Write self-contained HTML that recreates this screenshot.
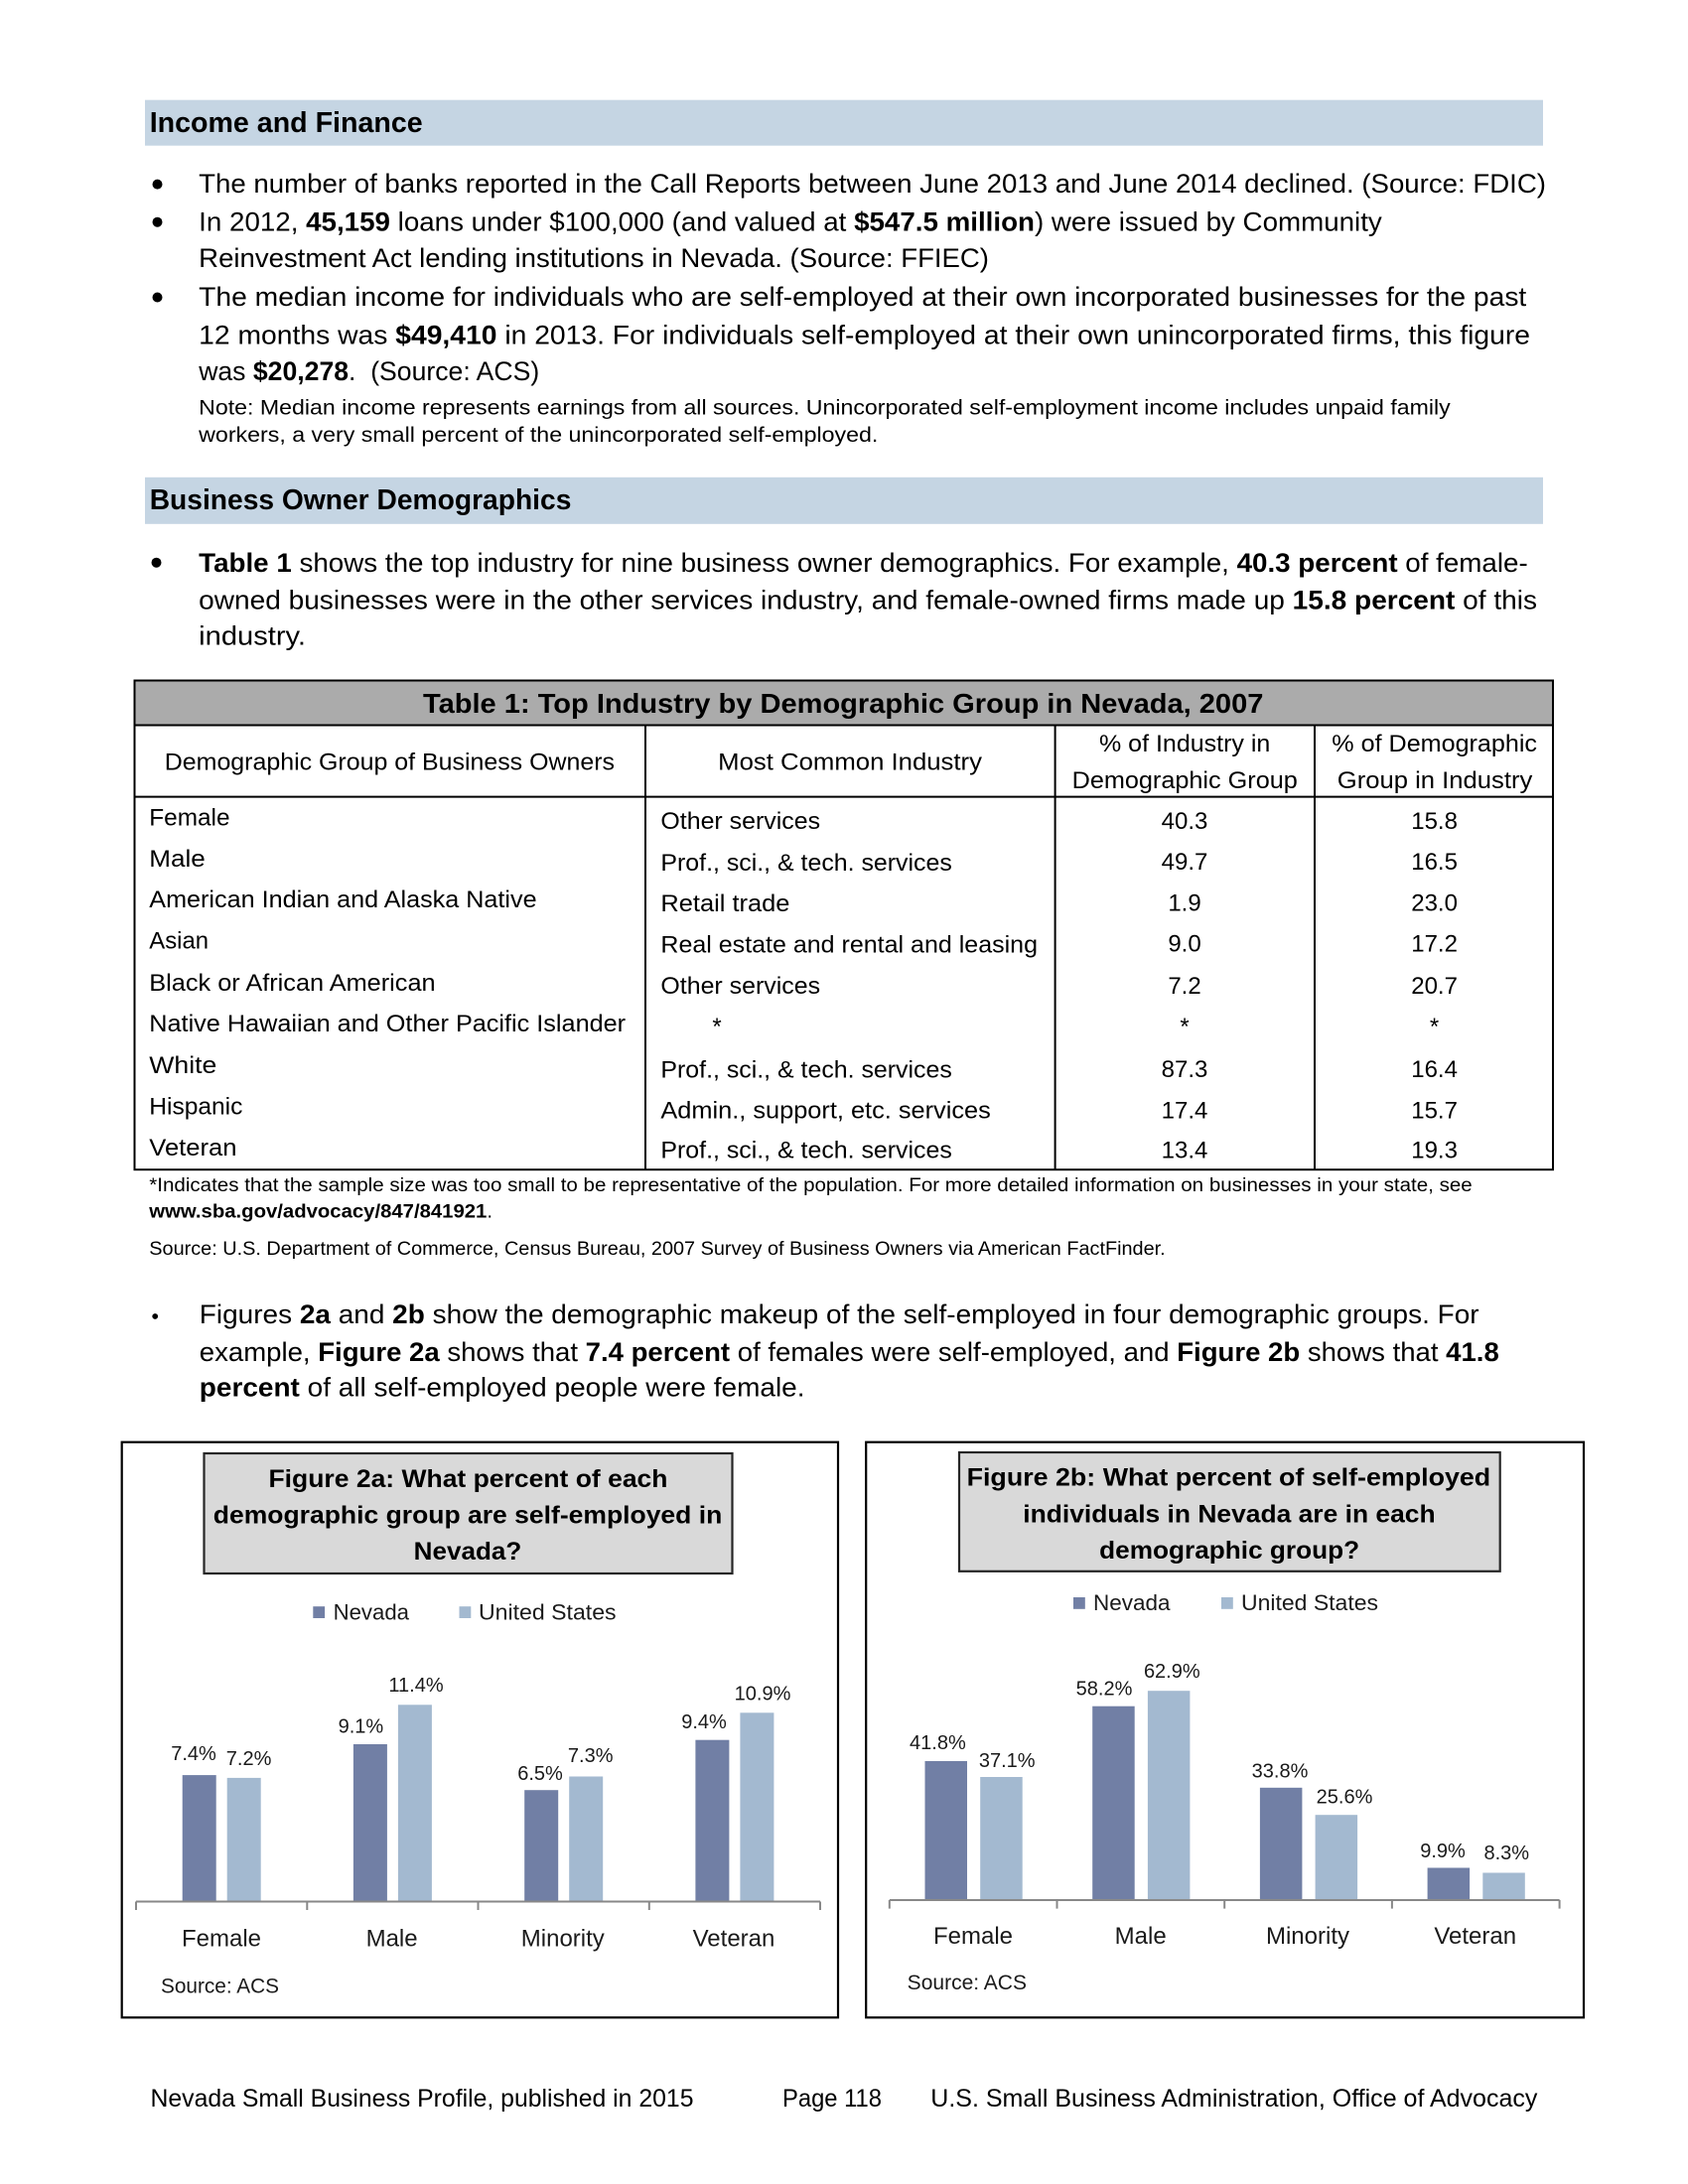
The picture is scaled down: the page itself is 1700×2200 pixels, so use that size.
<!DOCTYPE html>
<html>
<head>
<meta charset="utf-8">
<style>
html,body{margin:0;padding:0;background:#fff;}
svg{display:block;}
text{font-family:"Liberation Sans",Arial,sans-serif;fill:#000;}
.b{font-weight:bold;}
.body{font-size:27px;}
.note{font-size:21px;}
.tb{font-size:24px;}
.fn{font-size:19px;}
.ct{font-size:25px;font-weight:bold;}
.lg{font-size:22px;fill:#1a1a1a;}
.dl{font-size:20px;fill:#1a1a1a;}
.cat{font-size:24px;fill:#1a1a1a;}
.src{font-size:21px;fill:#1a1a1a;}
.ft{font-size:25px;}
</style>
</head>
<body>
<svg width="1700" height="2200" viewBox="0 0 1700 2200" xmlns="http://www.w3.org/2000/svg">
<rect x="0" y="0" width="1700" height="2200" fill="#fff"/>

<!-- Income and Finance header -->
<rect x="146" y="100.7" width="1408" height="46" fill="#c5d5e3"/>
<text x="150.7" y="132.8" class="b" font-size="29" textLength="275" lengthAdjust="spacingAndGlyphs">Income and Finance</text>

<!-- bullets -->
<circle cx="158.5" cy="185.6" r="5" fill="#000"/>
<circle cx="158.5" cy="223.7" r="5" fill="#000"/>
<circle cx="158.5" cy="299.5" r="5" fill="#000"/>

<text x="200.2" y="193.9" class="body" textLength="1356.8" lengthAdjust="spacingAndGlyphs">The number of banks reported in the Call Reports between June 2013 and June 2014 declined. (Source: FDIC)</text>
<text x="200.2" y="232.4" class="body" textLength="1191.6" lengthAdjust="spacingAndGlyphs">In 2012, <tspan class="b">45,159</tspan> loans under $100,000 (and valued at <tspan class="b">$547.5 million</tspan>) were issued by Community</text>
<text x="200.2" y="269.2" class="body" textLength="795.8" lengthAdjust="spacingAndGlyphs">Reinvestment Act lending institutions in Nevada. (Source: FFIEC)</text>
<text x="200.2" y="308.2" class="body" textLength="1337.1" lengthAdjust="spacingAndGlyphs">The median income for individuals who are self-employed at their own incorporated businesses for the past</text>
<text x="200.2" y="346.3" class="body" textLength="1340.8" lengthAdjust="spacingAndGlyphs">12 months was <tspan class="b">$49,410</tspan> in 2013. For individuals self-employed at their own unincorporated firms, this figure</text>
<text x="200.2" y="383" class="body" textLength="343" lengthAdjust="spacingAndGlyphs">was <tspan class="b">$20,278</tspan>.&#160; (Source: ACS)</text>
<text x="200.2" y="417.5" class="note" textLength="1260.5" lengthAdjust="spacingAndGlyphs">Note: Median income represents earnings from all sources. Unincorporated self-employment income includes unpaid family</text>
<text x="200.2" y="445" class="note" textLength="684.2" lengthAdjust="spacingAndGlyphs">workers, a very small percent of the unincorporated self-employed.</text>

<!-- Business Owner Demographics header -->
<rect x="146" y="480.8" width="1408" height="47" fill="#c5d5e3"/>
<text x="150.7" y="513" class="b" font-size="29" textLength="424.7" lengthAdjust="spacingAndGlyphs">Business Owner Demographics</text>

<circle cx="157.5" cy="566.7" r="5" fill="#000"/>
<text x="200.2" y="575.9" class="body" textLength="1338.5" lengthAdjust="spacingAndGlyphs"><tspan class="b">Table 1</tspan> shows the top industry for nine business owner demographics. For example, <tspan class="b">40.3 percent</tspan> of female-</text>
<text x="200.2" y="613.5" class="body" textLength="1347.8" lengthAdjust="spacingAndGlyphs">owned businesses were in the other services industry, and female-owned firms made up <tspan class="b">15.8 percent</tspan> of this</text>
<text x="200.2" y="649.3" class="body" textLength="107.8" lengthAdjust="spacingAndGlyphs">industry.</text>

<!-- Table -->
<rect x="135.5" y="685.5" width="1428.5" height="45" fill="#ababab"/>
<rect x="135.5" y="685.5" width="1428.5" height="492.7" fill="none" stroke="#000" stroke-width="2"/>
<line x1="135.5" y1="730.5" x2="1564" y2="730.5" stroke="#000" stroke-width="2"/>
<line x1="135.5" y1="802.6" x2="1564" y2="802.6" stroke="#000" stroke-width="2"/>
<line x1="650" y1="730.5" x2="650" y2="1178.2" stroke="#000" stroke-width="2"/>
<line x1="1062.6" y1="730.5" x2="1062.6" y2="1178.2" stroke="#000" stroke-width="2"/>
<line x1="1324" y1="730.5" x2="1324" y2="1178.2" stroke="#000" stroke-width="2"/>

<text x="426" y="718" class="b" font-size="28" textLength="846.4" lengthAdjust="spacingAndGlyphs">Table 1: Top Industry by Demographic Group in Nevada, 2007</text>

<text x="165.8" y="775.6" class="tb" textLength="453.2" lengthAdjust="spacingAndGlyphs">Demographic Group of Business Owners</text>
<text x="723.2" y="775.6" class="tb" textLength="265.8" lengthAdjust="spacingAndGlyphs">Most Common Industry</text>
<text x="1107" y="757" class="tb" textLength="172.3" lengthAdjust="spacingAndGlyphs">% of Industry in</text>
<text x="1079.6" y="794" class="tb" textLength="227.2" lengthAdjust="spacingAndGlyphs">Demographic Group</text>
<text x="1341.3" y="757" class="tb" textLength="206.7" lengthAdjust="spacingAndGlyphs">% of Demographic</text>
<text x="1346.8" y="794" class="tb" textLength="196.5" lengthAdjust="spacingAndGlyphs">Group in Industry</text>

<!-- column 1 -->
<text x="150.3" y="831.6" class="tb" textLength="81.2" lengthAdjust="spacingAndGlyphs">Female</text>
<text x="150.3" y="872.9" class="tb" textLength="56.5" lengthAdjust="spacingAndGlyphs">Male</text>
<text x="150.3" y="913.8" class="tb" textLength="390.3" lengthAdjust="spacingAndGlyphs">American Indian and Alaska Native</text>
<text x="150.3" y="955.5" class="tb" textLength="59.7" lengthAdjust="spacingAndGlyphs">Asian</text>
<text x="150.3" y="997.8" class="tb" textLength="288.3" lengthAdjust="spacingAndGlyphs">Black or African American</text>
<text x="150.3" y="1039" class="tb" textLength="479.8" lengthAdjust="spacingAndGlyphs">Native Hawaiian and Other Pacific Islander</text>
<text x="150.3" y="1080.9" class="tb" textLength="68" lengthAdjust="spacingAndGlyphs">White</text>
<text x="150.3" y="1122.7" class="tb" textLength="94.1" lengthAdjust="spacingAndGlyphs">Hispanic</text>
<text x="150.3" y="1164" class="tb" textLength="88.2" lengthAdjust="spacingAndGlyphs">Veteran</text>

<!-- column 2 -->
<text x="665.4" y="834.8" class="tb" textLength="160.7" lengthAdjust="spacingAndGlyphs">Other services</text>
<text x="665.4" y="877" class="tb" textLength="293.4" lengthAdjust="spacingAndGlyphs">Prof., sci., &amp; tech. services</text>
<text x="665.4" y="918" class="tb" textLength="130" lengthAdjust="spacingAndGlyphs">Retail trade</text>
<text x="665.4" y="959.5" class="tb" textLength="379.6" lengthAdjust="spacingAndGlyphs">Real estate and rental and leasing</text>
<text x="665.4" y="1001" class="tb" textLength="160.7" lengthAdjust="spacingAndGlyphs">Other services</text>
<text x="722" y="1042" class="tb" text-anchor="middle">*</text>
<text x="665.4" y="1085.5" class="tb" textLength="293.4" lengthAdjust="spacingAndGlyphs">Prof., sci., &amp; tech. services</text>
<text x="665.4" y="1126.7" class="tb" textLength="332.4" lengthAdjust="spacingAndGlyphs">Admin., support, etc. services</text>
<text x="665.4" y="1166.7" class="tb" textLength="293.4" lengthAdjust="spacingAndGlyphs">Prof., sci., &amp; tech. services</text>

<!-- column 3 -->
<g class="tb" text-anchor="middle">
<text x="1193" y="834.8" class="tb">40.3</text>
<text x="1193" y="876" class="tb">49.7</text>
<text x="1193" y="917.4" class="tb">1.9</text>
<text x="1193" y="958.7" class="tb">9.0</text>
<text x="1193" y="1001" class="tb">7.2</text>
<text x="1193" y="1042" class="tb">*</text>
<text x="1193" y="1085" class="tb">87.3</text>
<text x="1193" y="1126.3" class="tb">17.4</text>
<text x="1193" y="1166.7" class="tb">13.4</text>
<!-- column 4 -->
<text x="1444.6" y="834.8" class="tb">15.8</text>
<text x="1444.6" y="876" class="tb">16.5</text>
<text x="1444.6" y="917.4" class="tb">23.0</text>
<text x="1444.6" y="958.7" class="tb">17.2</text>
<text x="1444.6" y="1001" class="tb">20.7</text>
<text x="1444.6" y="1042" class="tb">*</text>
<text x="1444.6" y="1085" class="tb">16.4</text>
<text x="1444.6" y="1126.3" class="tb">15.7</text>
<text x="1444.6" y="1166.7" class="tb">19.3</text>
</g>

<!-- footnotes -->
<text x="150.3" y="1199.8" class="fn" textLength="1332.4" lengthAdjust="spacingAndGlyphs">*Indicates that the sample size was too small to be representative of the population. For more detailed information on businesses in your state, see</text>
<text x="150.3" y="1226.4" class="fn" textLength="345.7" lengthAdjust="spacingAndGlyphs"><tspan class="b">www.sba.gov/advocacy/847/841921</tspan>.</text>
<text x="150.3" y="1264" class="fn" textLength="1023.4" lengthAdjust="spacingAndGlyphs">Source: U.S. Department of Commerce, Census Bureau, 2007 Survey of Business Owners via American FactFinder.</text>

<!-- Figures bullet -->
<circle cx="156.2" cy="1326" r="2.9" fill="#000"/>
<text x="200.8" y="1333" class="body" textLength="1288.8" lengthAdjust="spacingAndGlyphs">Figures <tspan class="b">2a</tspan> and <tspan class="b">2b</tspan> show the demographic makeup of the self-employed in four demographic groups. For</text>
<text x="200.8" y="1371" class="body" textLength="1309" lengthAdjust="spacingAndGlyphs">example, <tspan class="b">Figure 2a</tspan> shows that <tspan class="b">7.4 percent</tspan> of females were self-employed, and <tspan class="b">Figure 2b</tspan> shows that <tspan class="b">41.8</tspan></text>
<text x="200.8" y="1406.4" class="body" textLength="609.7" lengthAdjust="spacingAndGlyphs"><tspan class="b">percent</tspan> of all self-employed people were female.</text>

<!-- ================= Figure 2a ================= -->
<rect x="122.7" y="1452.7" width="721.3" height="579.6" fill="#fff" stroke="#000" stroke-width="2.2"/>
<rect x="205.5" y="1464" width="532" height="121" fill="#d9d9d9" stroke="#262626" stroke-width="2.2"/>
<text x="270.5" y="1497.9" class="ct" textLength="402" lengthAdjust="spacingAndGlyphs">Figure 2a: What percent of each</text>
<text x="214.8" y="1534.7" class="ct" textLength="512.5" lengthAdjust="spacingAndGlyphs">demographic group are self-employed in</text>
<text x="416.7" y="1571" class="ct" textLength="108.6" lengthAdjust="spacingAndGlyphs">Nevada?</text>

<rect x="315.3" y="1618.2" width="11.8" height="11.8" fill="#717fa5"/>
<text x="335.6" y="1631.4" class="lg" textLength="76.4" lengthAdjust="spacingAndGlyphs">Nevada</text>
<rect x="462.5" y="1618.2" width="11.8" height="11.8" fill="#a3b9d0"/>
<text x="482" y="1631.4" class="lg" textLength="138.6" lengthAdjust="spacingAndGlyphs">United States</text>

<!-- bars 2a -->
<g>
<rect x="183.7" y="1788.1" width="34" height="126.9" fill="#717fa5"/>
<rect x="228.7" y="1790.9" width="34" height="124.1" fill="#a3b9d0"/>
<rect x="355.9" y="1757" width="34" height="158" fill="#717fa5"/>
<rect x="400.9" y="1717.3" width="34" height="197.7" fill="#a3b9d0"/>
<rect x="528.2" y="1803.2" width="34" height="111.8" fill="#717fa5"/>
<rect x="573.2" y="1789.5" width="34" height="125.5" fill="#a3b9d0"/>
<rect x="700.4" y="1752.7" width="34" height="162.3" fill="#717fa5"/>
<rect x="745.4" y="1725.3" width="34" height="189.7" fill="#a3b9d0"/>
</g>
<line x1="137" y1="1915.5" x2="826" y2="1915.5" stroke="#888" stroke-width="2"/>
<g stroke="#888" stroke-width="2">
<line x1="137" y1="1915.5" x2="137" y2="1924"/>
<line x1="309.3" y1="1915.5" x2="309.3" y2="1924"/>
<line x1="481.5" y1="1915.5" x2="481.5" y2="1924"/>
<line x1="653.8" y1="1915.5" x2="653.8" y2="1924"/>
<line x1="826" y1="1915.5" x2="826" y2="1924"/>
</g>
<g text-anchor="middle">
<text x="195" y="1773.2" class="dl">7.4%</text>
<text x="250.6" y="1777.8" class="dl">7.2%</text>
<text x="363.4" y="1745.7" class="dl">9.1%</text>
<text x="419" y="1704.2" class="dl">11.4%</text>
<text x="544" y="1792.9" class="dl">6.5%</text>
<text x="594.7" y="1775" class="dl">7.3%</text>
<text x="709" y="1741" class="dl">9.4%</text>
<text x="768" y="1712.7" class="dl">10.9%</text>
<text x="223" y="1960.3" class="cat">Female</text>
<text x="394.6" y="1960.3" class="cat">Male</text>
<text x="566.8" y="1960.3" class="cat">Minority</text>
<text x="739" y="1960.3" class="cat">Veteran</text>
</g>
<text x="162" y="2007.5" class="src" textLength="119" lengthAdjust="spacingAndGlyphs">Source: ACS</text>

<!-- ================= Figure 2b ================= -->
<rect x="872.2" y="1452.7" width="722.8" height="579.6" fill="#fff" stroke="#000" stroke-width="2.2"/>
<rect x="966" y="1463" width="544.7" height="119.8" fill="#d9d9d9" stroke="#262626" stroke-width="2.2"/>
<text x="973.6" y="1496.5" class="ct" textLength="527.6" lengthAdjust="spacingAndGlyphs">Figure 2b: What percent of self-employed</text>
<text x="1030.3" y="1533.3" class="ct" textLength="415.3" lengthAdjust="spacingAndGlyphs">individuals in Nevada are in each</text>
<text x="1107.2" y="1570" class="ct" textLength="261.9" lengthAdjust="spacingAndGlyphs">demographic group?</text>

<rect x="1081" y="1609" width="11.8" height="11.8" fill="#717fa5"/>
<text x="1101" y="1622" class="lg" textLength="77.5" lengthAdjust="spacingAndGlyphs">Nevada</text>
<rect x="1230" y="1609" width="11.8" height="11.8" fill="#a3b9d0"/>
<text x="1250" y="1622" class="lg" textLength="138" lengthAdjust="spacingAndGlyphs">United States</text>

<g>
<rect x="931.5" y="1774" width="42.5" height="139.5" fill="#717fa5"/>
<rect x="987.2" y="1790" width="42.5" height="123.5" fill="#a3b9d0"/>
<rect x="1100.2" y="1718.7" width="42.5" height="194.8" fill="#717fa5"/>
<rect x="1155.9" y="1703.2" width="42.5" height="210.3" fill="#a3b9d0"/>
<rect x="1268.9" y="1800.8" width="42.5" height="112.7" fill="#717fa5"/>
<rect x="1324.6" y="1828.2" width="42.5" height="85.3" fill="#a3b9d0"/>
<rect x="1437.6" y="1881.5" width="42.5" height="32" fill="#717fa5"/>
<rect x="1493.3" y="1886.5" width="42.5" height="27" fill="#a3b9d0"/>
</g>
<line x1="895.8" y1="1914" x2="1570.6" y2="1914" stroke="#888" stroke-width="2"/>
<g stroke="#888" stroke-width="2">
<line x1="895.8" y1="1914" x2="895.8" y2="1922.6"/>
<line x1="1064.5" y1="1914" x2="1064.5" y2="1922.6"/>
<line x1="1233.2" y1="1914" x2="1233.2" y2="1922.6"/>
<line x1="1401.9" y1="1914" x2="1401.9" y2="1922.6"/>
<line x1="1570.6" y1="1914" x2="1570.6" y2="1922.6"/>
</g>
<g text-anchor="middle">
<text x="944.4" y="1762.2" class="dl">41.8%</text>
<text x="1014.2" y="1780.2" class="dl">37.1%</text>
<text x="1112" y="1707.5" class="dl">58.2%</text>
<text x="1180.3" y="1690.2" class="dl">62.9%</text>
<text x="1289" y="1790.6" class="dl">33.8%</text>
<text x="1354" y="1816.5" class="dl">25.6%</text>
<text x="1453" y="1870.8" class="dl">9.9%</text>
<text x="1517.3" y="1873.2" class="dl">8.3%</text>
<text x="980" y="1958" class="cat">Female</text>
<text x="1148.7" y="1958" class="cat">Male</text>
<text x="1317" y="1958" class="cat">Minority</text>
<text x="1485.7" y="1958" class="cat">Veteran</text>
</g>
<text x="913.7" y="2004.2" class="src" textLength="120.3" lengthAdjust="spacingAndGlyphs">Source: ACS</text>

<!-- footer -->
<text x="151.5" y="2122.2" class="ft" textLength="547" lengthAdjust="spacingAndGlyphs">Nevada Small Business Profile, published in 2015</text>
<text x="788" y="2122.2" class="ft" textLength="100" lengthAdjust="spacingAndGlyphs">Page 118</text>
<text x="937.3" y="2122.2" class="ft" textLength="611.1" lengthAdjust="spacingAndGlyphs">U.S. Small Business Administration, Office of Advocacy</text>
</svg>
</body>
</html>
